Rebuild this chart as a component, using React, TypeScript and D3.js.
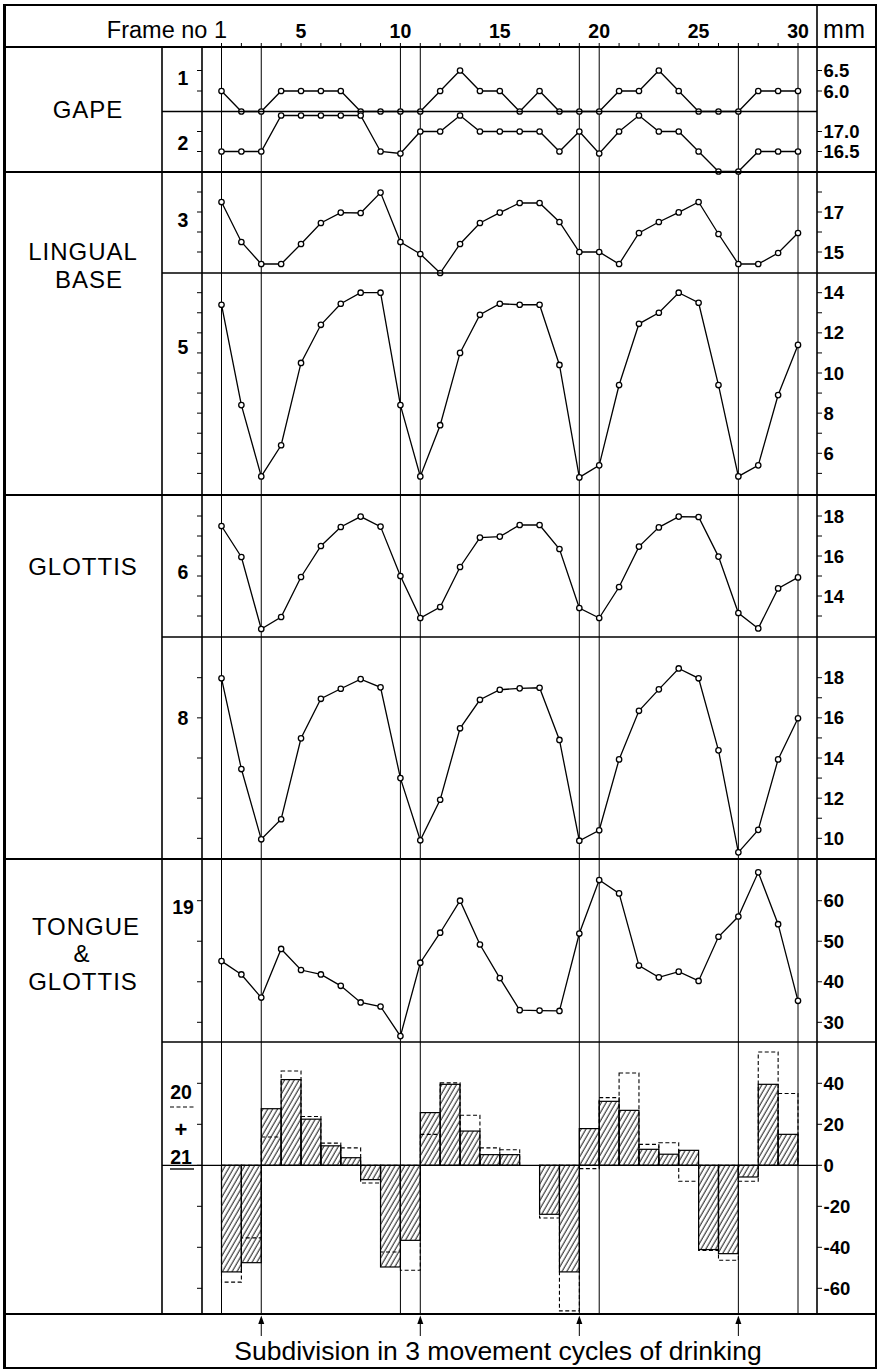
import React from "react";
import * as d3 from "d3";

// frames along the top, and the frames where the cycle lines are drawn
const frameNos = d3.range(1, 31);
const headerNos = [5, 10, 15, 20, 25, 30];
const cycleLines = [1, 3, 10, 11, 19, 20, 27, 30];
const cycleArrows = [3, 11, 19, 27];

// GAPE
const gape1 = [6.0, 5.5, 5.5, 6.0, 6.0, 6.0, 6.0, 5.5, 5.5, 5.5, 5.5, 6.0, 6.5, 6.0, 6.0, 5.5, 6.0, 5.5, 5.5, 5.5, 6.0, 6.0, 6.5, 6.0, 5.5, 5.5, 5.5, 6.0, 6.0, 6.0];
const gape2 = [16.5, 16.5, 16.5, 17.4, 17.4, 17.4, 17.4, 17.4, 16.5, 16.45, 17.0, 17.0, 17.4, 17.0, 17.0, 17.0, 17.0, 16.5, 17.0, 16.45, 17.0, 17.4, 17.0, 17.0, 16.5, 16.0, 16.0, 16.5, 16.5, 16.5];
// LINGUAL BASE
const lingual3 = [17.5, 15.5, 14.4, 14.4, 15.4, 16.45, 16.97, 16.95, 17.97, 15.5, 14.9, 13.95, 15.4, 16.45, 16.97, 17.45, 17.45, 16.5, 15.0, 15.0, 14.4, 15.95, 16.5, 16.98, 17.5, 15.9, 14.4, 14.4, 14.95, 15.95];
const lingual5 = [13.4, 8.4, 4.85, 6.4, 10.5, 12.4, 13.45, 14.0, 14.0, 8.4, 4.85, 7.4, 11.0, 12.9, 13.45, 13.4, 13.4, 10.4, 4.8, 5.4, 9.4, 12.45, 13.0, 14.0, 13.5, 9.4, 4.85, 5.4, 8.9, 11.4];
// GLOTTIS
const glottis6 = [17.5, 15.95, 12.35, 12.95, 14.95, 16.5, 17.45, 17.97, 17.47, 15.0, 12.9, 13.45, 15.45, 16.92, 16.97, 17.55, 17.55, 16.35, 13.4, 12.9, 14.45, 16.47, 17.43, 17.97, 17.95, 15.97, 13.15, 12.38, 14.38, 14.93];
const glottis8 = [17.97, 13.45, 9.95, 10.95, 14.98, 16.95, 17.45, 17.93, 17.52, 13.0, 9.9, 11.92, 15.48, 16.9, 17.4, 17.47, 17.5, 14.9, 9.88, 10.4, 13.93, 16.35, 17.42, 18.46, 17.97, 14.38, 9.3, 10.42, 13.93, 15.98];
// TONGUE & GLOTTIS
const tongue19 = [45.1, 41.8, 36.1, 48.1, 42.9, 41.8, 39.0, 34.9, 33.9, 26.6, 44.7, 52.1, 60.0, 49.2, 40.9, 33.0, 32.9, 32.8, 51.9, 65.1, 61.8, 44.0, 41.1, 42.5, 40.2, 51.1, 56.1, 67.0, 54.2, 35.3];
// 20 (dashed) and 21 (hatched), one value per interval between frames
const bars20 = [-57, -35.4, 13.8, 46, 23.8, 10.8, 8.5, -8.6, -42.3, -51.2, 15.1, 40.2, 24.4, 8.5, 7.6, 0, -25.7, -71, -1.6, 33, 45, 10.2, 11, -7.8, -41.5, -46.3, -7.8, 55.3, 35];
const bars21 = [-52, -47.5, 27.6, 41.8, 22.5, 9.5, 3.7, -7, -49.6, -36.6, 25.7, 39.5, 16.7, 5.2, 5.2, 0, -23.9, -52, 17.9, 31.2, 26.8, 7.8, 5.4, 7.3, -41.1, -43.1, -5.7, 39.5, 15.1];

const FONT = "'Liberation Sans', Arial, Helvetica, sans-serif";

const W = 878;
const H = 1371;
const L = 4;
const R = 876;
const TOP = 5;
const BOT = 1368;
const COL = 162;
const AXL = 202;
const AXR = 817;
const HEAD = 47;
const END = 1314;

const x = d3.scaleLinear().domain([1, 30]).range([221.5, 798]);

const fmt1 = d3.format(".1f");
const fmt0 = (v: number) => (v < 0 ? "-" + Math.abs(v) : String(v));

type Panel = {
  tag: string;
  tagY: number;
  values: number[];
  y: d3.ScaleLinear<number, number>;
  leftTicks: number[];
  rightTicks: number[];
  labels: number[];
  fmt: (v: number) => string;
};

const panels: Panel[] = [
  { tag: "1", tagY: 78, values: gape1, y: d3.scaleLinear().domain([5.5, 6.5]).range([111.5, 70.5]), leftTicks: [6.5, 6.0], rightTicks: [6.5, 6.0], labels: [6.5, 6.0], fmt: fmt1 },
  { tag: "2", tagY: 143, values: gape2, y: d3.scaleLinear().domain([16.5, 17]).range([151.5, 131.5]), leftTicks: [17, 16.5], rightTicks: [17, 16.5], labels: [17, 16.5], fmt: fmt1 },
  { tag: "3", tagY: 220, values: lingual3, y: d3.scaleLinear().domain([15, 17]).range([252, 212]), leftTicks: [18, 17, 16, 15], rightTicks: [18, 17, 16, 15], labels: [17, 15], fmt: fmt0 },
  { tag: "5", tagY: 347, values: lingual5, y: d3.scaleLinear().domain([6, 14]).range([453.3, 292.7]), leftTicks: d3.range(5, 15), rightTicks: d3.range(5, 15), labels: [14, 12, 10, 8, 6], fmt: fmt0 },
  { tag: "6", tagY: 572, values: glottis6, y: d3.scaleLinear().domain([14, 18]).range([596, 516]), leftTicks: d3.range(13, 19), rightTicks: d3.range(13, 19), labels: [18, 16, 14], fmt: fmt0 },
  { tag: "8", tagY: 718, values: glottis8, y: d3.scaleLinear().domain([10, 18]).range([838.3, 677.7]), leftTicks: [18, 16, 14, 12, 10], rightTicks: d3.range(10, 19), labels: [18, 16, 14, 12, 10], fmt: fmt0 },
  { tag: "19", tagY: 907, values: tongue19, y: d3.scaleLinear().domain([30, 60]).range([1022.3, 900.7]), leftTicks: [60, 50, 40, 30], rightTicks: [60, 50, 40, 30], labels: [60, 50, 40, 30], fmt: fmt0 },
];

const yBar = d3.scaleLinear().domain([-60, 40]).range([1288.3, 1083.3]);
const barTicks = [40, 20, 0, -20, -40, -60];

const groupLabels = [
  { text: "GAPE", cx: 88, cy: 109 },
  { text: "LINGUAL", cx: 83, cy: 251 },
  { text: "BASE", cx: 89, cy: 279 },
  { text: "GLOTTIS", cx: 83, cy: 566 },
  { text: "TONGUE", cx: 86, cy: 926 },
  { text: "&", cx: 82, cy: 953 },
  { text: "GLOTTIS", cx: 83, cy: 981 },
];

const App = () => {
  const line = (p: Panel) =>
    d3
      .line<number>()
      .x((_, i) => x(i + 1))
      .y((d) => p.y(d))(p.values) || "";

  const y0 = yBar(0);

  return (
    <svg width={W} height={H} style={{ position: "absolute", left: 0, top: 0, background: "#fff" }} fontFamily={FONT}>
      <defs>
        <pattern id="hatch" patternUnits="userSpaceOnUse" width={4.2} height={10} patternTransform="rotate(30)">
          <line x1={1} y1={-1} x2={1} y2={11} stroke="#000" strokeWidth={0.9} />
        </pattern>
      </defs>
      <rect x={0} y={0} width={W} height={H} fill="#fff" />

      {/* cycle lines */}
      {cycleLines.map((f) => (
        <line key={"c" + f} x1={x(f)} x2={x(f)} y1={HEAD} y2={END} stroke="#000" strokeWidth={1} />
      ))}

      {/* header */}
      {frameNos.map((f) => (
        <line key={"ht" + f} x1={x(f)} x2={x(f)} y1={HEAD} y2={HEAD - 4} stroke="#000" strokeWidth={1} />
      ))}
      <text x={227} y={38} fontSize={23.5} textAnchor="end">Frame no 1</text>
      {headerNos.map((f) => (
        <text key={"hn" + f} x={x(f)} y={37.5} fontSize={19.5} fontWeight="bold" textAnchor="middle">{f}</text>
      ))}
      <text x={823} y={38} fontSize={25} letterSpacing={0.5}>mm</text>

      {/* bars 20 + 21 */}
      {bars21.map((v, i) =>
        v === 0 ? null : (
          <rect
            key={"h" + i}
            x={x(i + 1)}
            width={x(i + 2) - x(i + 1)}
            y={Math.min(yBar(v), y0)}
            height={Math.abs(yBar(v) - y0)}
            fill="url(#hatch)"
            stroke="#000"
            strokeWidth={1.2}
          />
        )
      )}
      {bars20.map((v, i) =>
        v === 0 ? null : (
          <rect
            key={"d" + i}
            x={x(i + 1)}
            width={x(i + 2) - x(i + 1)}
            y={Math.min(yBar(v), y0)}
            height={Math.abs(yBar(v) - y0)}
            fill="none"
            stroke="#000"
            strokeWidth={1.1}
            strokeDasharray="4 2.5"
          />
        )
      )}
      <line x1={COL} x2={AXR} y1={y0} y2={y0} stroke="#000" strokeWidth={1.3} />

      {/* panel lines and points */}
      {panels.map((p) => (
        <g key={"p" + p.tag}>
          <path d={line(p)} fill="none" stroke="#000" strokeWidth={1.3} />
          {p.values.map((v, i) => (
            <circle key={i} cx={x(i + 1)} cy={p.y(v)} r={2.7} fill="#fff" stroke="#000" strokeWidth={1.3} />
          ))}
          {p.leftTicks.map((t) => (
            <line key={"l" + t} x1={AXL - 5} x2={AXL} y1={p.y(t)} y2={p.y(t)} stroke="#000" strokeWidth={1} />
          ))}
          {p.rightTicks.map((t) => (
            <line key={"r" + t} x1={AXR} x2={AXR + 5} y1={p.y(t)} y2={p.y(t)} stroke="#000" strokeWidth={1} />
          ))}
          {p.labels.map((t) => (
            <text key={"t" + t} x={823.5} y={p.y(t) + 6.5} fontSize={18.5} fontWeight="bold">{p.fmt(t)}</text>
          ))}
          <text x={183} y={p.tagY + 7} fontSize={19.5} fontWeight="bold" textAnchor="middle">{p.tag}</text>
        </g>
      ))}

      {barTicks.map((t) => (
        <g key={"b" + t}>
          <line x1={AXL - 5} x2={AXL} y1={yBar(t)} y2={yBar(t)} stroke="#000" strokeWidth={1} />
          <line x1={AXR} x2={AXR + 5} y1={yBar(t)} y2={yBar(t)} stroke="#000" strokeWidth={1} />
          <text x={823.5} y={yBar(t) + 6.5} fontSize={18.5} fontWeight="bold">{fmt0(t)}</text>
        </g>
      ))}
      <text x={181} y={1099} fontSize={19.5} fontWeight="bold" textAnchor="middle">20</text>
      <line x1={170} x2={194} y1={1107} y2={1107} stroke="#000" strokeWidth={1.2} strokeDasharray="4 2.5" />
      <text x={181} y={1137} fontSize={22} fontWeight="bold" textAnchor="middle">+</text>
      <text x={181} y={1164} fontSize={19.5} fontWeight="bold" textAnchor="middle">21</text>
      <line x1={170} x2={194} y1={1169} y2={1169} stroke="#000" strokeWidth={1.4} />

      {/* group labels */}
      {groupLabels.map((g, i) => (
        <text key={"g" + i} x={g.cx} y={g.cy + 8.6} fontSize={24} letterSpacing={1} textAnchor="middle">{g.text}</text>
      ))}

      {/* frame rules */}
      {[HEAD, 172, 495, 859, END].map((yy) => (
        <line key={"f" + yy} x1={L} x2={R} y1={yy} y2={yy} stroke="#000" strokeWidth={1.8} />
      ))}
      {[273, 637, 1042].map((yy) => (
        <line key={"s" + yy} x1={COL} x2={R} y1={yy} y2={yy} stroke="#000" strokeWidth={1.6} />
      ))}
      <line x1={COL} x2={AXR} y1={111.5} y2={111.5} stroke="#000" strokeWidth={1.6} />
      <line x1={COL} x2={COL} y1={HEAD} y2={END} stroke="#000" strokeWidth={1.6} />
      <line x1={AXL} x2={AXL} y1={HEAD} y2={END} stroke="#000" strokeWidth={1.6} />
      <line x1={AXR} x2={AXR} y1={TOP} y2={END} stroke="#000" strokeWidth={1.6} />
      <rect x={L} y={TOP} width={R - L} height={BOT - TOP} fill="none" stroke="#000" strokeWidth={2} />
      <line x1={L + 0.5} x2={L + 0.5} y1={TOP} y2={BOT} stroke="#000" strokeWidth={3} />

      {/* cycle arrows */}
      {cycleArrows.map((f) => (
        <g key={"a" + f}>
          <line x1={x(f)} x2={x(f)} y1={1336} y2={1322} stroke="#000" strokeWidth={1} />
          <path d={`M${x(f) - 3},${1324}L${x(f) + 3},${1324}L${x(f)},${1315.5}Z`} fill="#000" />
        </g>
      ))}
      <text x={498} y={1360} fontSize={26.5} textAnchor="middle">Subdivision in 3 movement cycles of drinking</text>
    </svg>
  );
};

export default App;
